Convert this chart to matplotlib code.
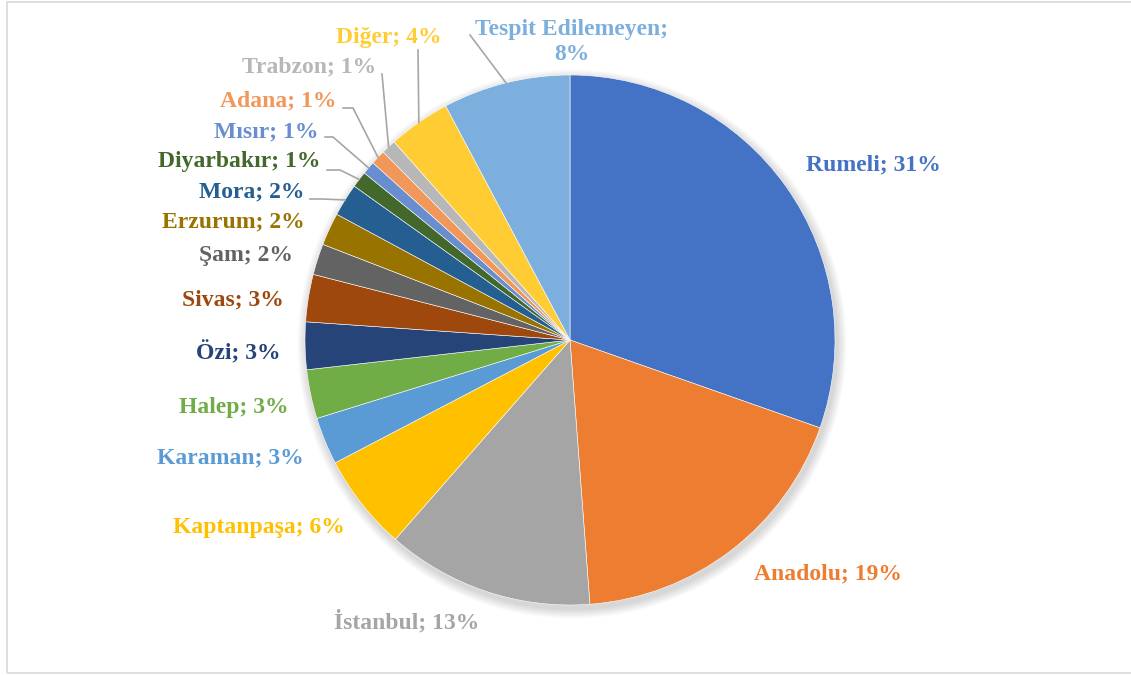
import numpy as np
import matplotlib
matplotlib.use("Agg")
import matplotlib.pyplot as plt
from matplotlib.patches import Rectangle

# ---- data ----
categories = ["Rumeli", "Anadolu", "İstanbul", "Kaptanpaşa", "Karaman", "Halep",
              "Özi", "Sivas", "Şam", "Erzurum", "Mora", "Diyarbakır", "Mısır",
              "Adana", "Trabzon", "Diğer", "Tespit Edilemeyen"]
values = [30.5, 18.5, 12.7, 5.9, 2.9, 3.0, 2.9, 2.9, 1.9, 2.0, 2.0, 1.0, 0.8,
          0.9, 0.9, 3.8, 7.8]
pct_labels = ["31%", "19%", "13%", "6%", "3%", "3%", "3%", "3%", "2%", "2%",
              "2%", "1%", "1%", "1%", "1%", "4%", "8%"]
colors = ["#4472C4", "#ED7D31", "#A5A5A5", "#FFC000", "#5B9BD5", "#70AD47",
          "#264478", "#9E480E", "#636363", "#997300", "#255E91", "#43682B",
          "#698ED0", "#F1975A", "#B7B7B7", "#FFCD33", "#7CAFDD"]

# ---- layout (pixel space, y measured from top) ----
W, H = 1131, 675
CX, CY, R = 570, 340, 265
# label centre positions
label_pos = {
    "Rumeli": (873, 165), "Anadolu": (828, 574), "İstanbul": (407, 622),
    "Kaptanpaşa": (259, 527), "Karaman": (230, 458), "Halep": (234, 407),
    "Özi": (238, 353), "Sivas": (233, 300), "Şam": (246, 256),
    "Erzurum": (233, 222), "Mora": (252, 192), "Diyarbakır": (239, 162),
    "Mısır": (266, 132), "Adana": (278, 101), "Trabzon": (309, 67),
    "Diğer": (389, 38), "Tespit Edilemeyen": (572, 42),
}
# leader lines: list of pixel points, last point is computed on pie edge
leaders = {
    "Tespit Edilemeyen": [(470, 35)],
    "Diğer": [(418, 50)],
    "Trabzon": [(382, 74)],
    "Adana": [(343, 108), (353, 108)],
    "Mısır": [(325, 137), (333, 137)],
    "Diyarbakır": [(327, 170), (340, 170)],
    "Mora": [(310, 199), (322, 199)],
}

def fy(y):
    return H - y

plt.rcParams['font.family'] = ['Liberation Serif', 'DejaVu Serif']
fig = plt.figure(figsize=(W / 100, H / 100), dpi=100)
ax = fig.add_axes([0, 0, 1, 1])

wedges, _ = ax.pie(values, colors=colors, startangle=90, counterclock=False,
                   center=(CX, fy(CY)), radius=R,
                   wedgeprops=dict(edgecolor="white", linewidth=0.4))
for w in wedges:
    w.set_zorder(2)

ax.set_xlim(0, W)
ax.set_ylim(0, H)
ax.set_aspect('equal')
ax.axis('off')

# border
ax.add_patch(Rectangle((6.5, fy(673)), 1140, 671, fill=False,
                       edgecolor="#D9D9D9", linewidth=1.2, clip_on=False))

# soft shadow
for i in range(8):
    ax.add_patch(plt.Circle((CX + 2, fy(CY + 4)), R + 1 + i * 1.2,
                            color="#000000", alpha=0.018, zorder=1, lw=0))

for i, (cat, w) in enumerate(zip(categories, wedges)):
    x, y = label_pos[cat]
    if cat == "Tespit Edilemeyen":
        txt = f"{cat};\n{pct_labels[i]}"
        ls = 1.3
    else:
        txt = f"{cat}; {pct_labels[i]}"
        ls = 1.05
    ax.text(x, fy(y), txt, ha="center", va="center", fontsize=17,
            fontweight="bold", color=colors[i], linespacing=ls, zorder=4)
    if cat in leaders:
        mid = np.deg2rad((w.theta1 + w.theta2) / 2)
        ex = CX + R * np.cos(mid)
        ey = fy(CY) + R * np.sin(mid)
        pts = [(px, fy(py)) for px, py in leaders[cat]] + [(ex, ey)]
        xs, ys = zip(*pts)
        ax.plot(xs, ys, color="#A6A6A6", linewidth=1.2, zorder=3)

fig.savefig("out.png", dpi=100)
